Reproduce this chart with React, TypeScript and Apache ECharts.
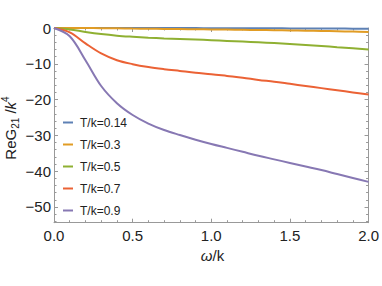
import React, { useEffect, useRef } from "react";
import * as echarts from "echarts";

const xs = [0, 0.1, 0.2, 0.3, 0.4, 0.5, 0.6, 0.7, 0.8, 0.9, 1.0, 1.1, 1.2, 1.3, 1.4, 1.5, 1.6, 1.7, 1.8, 1.9, 2.0];
const t014 = [0, 0, 0, 0, 0, 0, 0, -0.01, -0.02, -0.03, -0.04, -0.05, -0.06, -0.075, -0.09, -0.105, -0.12, -0.14, -0.16, -0.18, -0.2];
const t03 = [0, 0, -0.02, -0.05, -0.09, -0.15, -0.2, -0.25, -0.3, -0.35, -0.4, -0.45, -0.5, -0.56, -0.62, -0.68, -0.75, -0.82, -0.9, -1.0, -1.1];
const t05 = [0, -0.4, -1.1, -1.7, -2.15, -2.45, -2.7, -2.9, -3.05, -3.2, -3.4, -3.6, -3.8, -4.0, -4.2, -4.45, -4.75, -5.05, -5.35, -5.65, -6.0];
const t07 = [0, -1.2, -4.3, -7.1, -9.0, -10.1, -10.9, -11.5, -12.0, -12.5, -12.9, -13.4, -13.9, -14.5, -15.0, -15.6, -16.2, -16.8, -17.4, -18.0, -18.6];
const t09 = [0, -2.3, -9.0, -16.2, -21.0, -24.3, -26.7, -28.5, -29.9, -31.2, -32.4, -33.5, -34.6, -35.7, -36.7, -37.7, -38.7, -39.7, -40.8, -41.9, -43.0];

const seriesNames = ["T/k=0.14", "T/k=0.3", "T/k=0.5", "T/k=0.7", "T/k=0.9"];
const seriesValues = [t014, t03, t05, t07, t09];
const colors = ["#5E81B5", "#E19C24", "#8FB032", "#EB6235", "#8778B3"];

const yMajor = [0, -10, -20, -30, -40, -50];
const yMinor = [0, -2, -4, -6, -8, -10, -12, -14, -16, -18, -20, -22, -24, -26, -28, -30, -32, -34, -36, -38, -40, -42, -44, -46, -48, -50, -52, -54];
const Y_MIN = -54.4;
const Y_MAX = 0;

const FRAME = "#999999";
const LABEL = "#222222";
const FONT = "'Liberation Sans', Arial, sans-serif";

export default function App() {
  const ref = useRef<HTMLDivElement>(null);
  useEffect(() => {
    if (!ref.current) return;
    const chart = echarts.init(ref.current, null, { renderer: "svg" });
    const fmtY = (v: number) => String(Math.round(v)).replace("-", "\u2212");
    const baseY = (pos: string, major: boolean, labels: boolean, line: boolean) => ({
      type: "value",
      gridIndex: 0,
      position: pos,
      min: Y_MIN,
      max: Y_MAX,
      axisLine: { show: line, lineStyle: { color: FRAME, width: 1 } },
      axisTick: {
        show: true,
        inside: true,
        length: major ? 4 : 2.5,
        customValues: major ? yMajor : yMinor,
        lineStyle: { color: FRAME, width: 1 },
      },
      axisLabel: labels
        ? {
            show: true,
            customValues: yMajor,
            formatter: fmtY,
            color: LABEL,
            fontSize: 15,
            fontFamily: FONT,
            margin: 3,
          }
        : { show: false },
      splitLine: { show: false },
    });
    const baseX = (pos: string, labels: boolean) => ({
      type: "value",
      gridIndex: 0,
      position: pos,
      min: 0,
      max: 2,
      interval: 0.5,
      axisLine: { show: true, onZero: false, lineStyle: { color: FRAME, width: 1 } },
      axisTick: { show: true, inside: true, length: 4, lineStyle: { color: FRAME, width: 1 } },
      minorTick: { show: true, splitNumber: 5, length: 2.5, lineStyle: { color: FRAME, width: 1 } },
      axisLabel: labels
        ? {
            show: true,
            formatter: (v: number) => v.toFixed(1),
            color: LABEL,
            fontSize: 15,
            fontFamily: FONT,
            margin: 5,
          }
        : { show: false },
      splitLine: { show: false },
    });
    chart.setOption({
      animation: false,
      grid: { left: 54, right: 11, top: 28, bottom: 63.3, containLabel: false },
      xAxis: [baseX("bottom", true), baseX("top", false)],
      yAxis: [
        baseY("left", true, true, true),
        baseY("left", false, false, false),
        baseY("right", true, false, true),
        baseY("right", false, false, false),
      ],
      legend: {
        orient: "vertical",
        left: 63,
        top: 115.5,
        padding: 0,
        itemGap: 8,
        itemWidth: 10,
        itemHeight: 2,
        icon: "rect",
        data: seriesNames,
        textStyle: { fontSize: 12, lineHeight: 14, color: LABEL, fontFamily: FONT, padding: [0, 0, 0, 2] },
      },
      series: seriesNames.map((name, i) => ({
        name,
        type: "line",
        xAxisIndex: 0,
        yAxisIndex: 0,
        data: xs.map((x, j) => [x, seriesValues[i][j]]),
        smooth: 0.35,
        showSymbol: false,
        symbol: "none",
        clip: false,
        color: colors[i],
        lineStyle: { color: colors[i], width: 2 },
      })),
      graphic: [
        {
          type: "text",
          x: 212.5,
          y: 255,
          style: {
            text: "{i|ω}/k",
            fontSize: 15,
            fontFamily: FONT,
            fill: LABEL,
            align: "center",
            verticalAlign: "middle",
            rich: { i: { fontStyle: "italic", fontSize: 15, fontFamily: FONT, fill: LABEL } },
          },
        },
        {
          type: "text",
          x: 10,
          y: 128,
          rotation: Math.PI / 2,
          style: {
            text: "ReG{sub|21} /{i|k}{sup|4}",
            fontSize: 15,
            fontFamily: FONT,
            fill: LABEL,
            align: "center",
            verticalAlign: "middle",
            lineHeight: 20,
            rich: {
              sub: { fontSize: 10, fontFamily: FONT, fill: LABEL, verticalAlign: "bottom", lineHeight: 20 },
              sup: { fontSize: 10, fontFamily: FONT, fill: LABEL, verticalAlign: "top", lineHeight: 20 },
              i: { fontStyle: "italic", fontSize: 15, fontFamily: FONT, fill: LABEL, lineHeight: 20 },
            },
          },
        },
      ],
    });
    return () => chart.dispose();
  }, []);
  return <div ref={ref} style={{ width: 382, height: 286, position: "absolute", left: 0, top: 0 }} />;
}
